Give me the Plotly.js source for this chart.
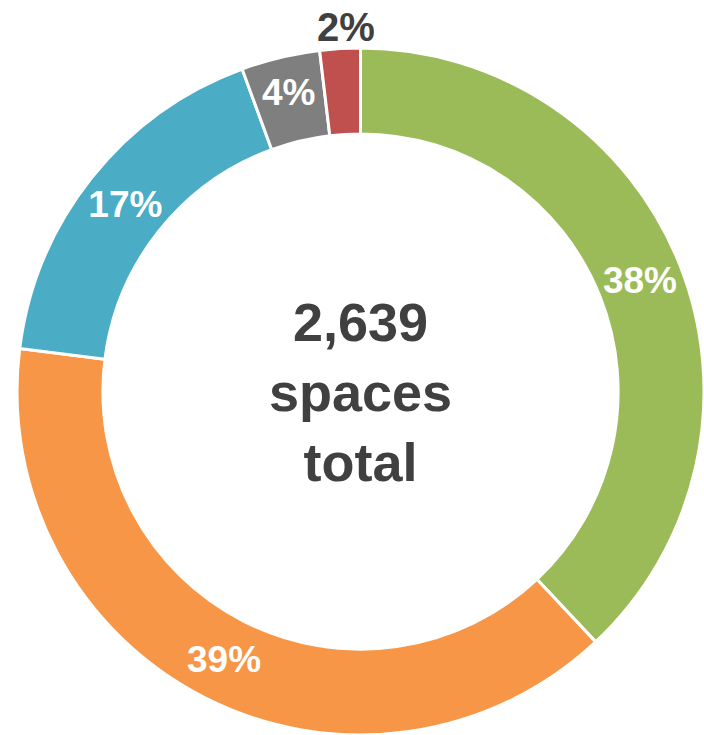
<!DOCTYPE html>
<html>
<head>
<meta charset="utf-8">
<script src="https://cdn.plot.ly/plotly-3.0.1.min.js"></script>
<style>html,body{margin:0;padding:0;background:#fff;}#chart{width:704px;height:735px;}</style>
</head>
<body>
<div id="chart"></div>
<script>
const categories = ["Green", "Orange", "Blue", "Gray", "Red"];
const values = [38, 39, 17.4, 3.7, 1.9];
const colors = ["#9BBB59", "#F79646", "#4BACC6", "#7F7F7F", "#C0504D"];
const insideLabel = [true, true, true, true, false];
const centerLines = ["2,639", "spaces", "total"];

const FONT = "Liberation Sans, Arial, sans-serif";
const total = values.reduce((a, b) => a + b, 0);

const annotations = [{
  xref: "paper", yref: "paper", x: 0.5, y: 0.5,
  text: "<b>" + centerLines.join("<br>") + "</b>",
  showarrow: false,
  font: {family: FONT, size: 54, color: "#404040"},
  align: "center"
}];
// label for the tiny slice, placed just outside the ring at its mid angle
let cum = 0;
values.forEach((v, i) => {
  const mid = (cum + v / 2) / total * 2 * Math.PI;
  cum += v;
  if (!insideLabel[i]) {
    const r = 0.532;
    annotations.push({
      xref: "paper", yref: "paper",
      x: 0.5 + r * Math.sin(mid) + 0.01,
      y: 0.5 + r * Math.cos(mid),
      xanchor: "center", yanchor: "middle",
      text: "<b>" + Math.round(v / total * 100) + "%</b>",
      showarrow: false,
      font: {family: FONT, size: 40, color: "#404040"}
    });
  }
});

Plotly.newPlot("chart", [{
  type: "pie",
  labels: categories,
  values: values,
  hole: 0.75,
  sort: false,
  direction: "clockwise",
  rotation: 0,
  marker: {colors: colors, line: {color: "#ffffff", width: 3}},
  texttemplate: insideLabel.map(f => f ? "<b>%{percent:.0%}</b>" : ""),
  textposition: insideLabel.map(f => f ? "inside" : "none"),
  insidetextorientation: "horizontal",
  insidetextfont: {family: FONT, size: 37, color: "#ffffff"},
  showlegend: false,
  hoverinfo: "none"
}], {
  width: 704,
  height: 735,
  margin: {l: 17, r: 0, t: 48, b: 0},
  paper_bgcolor: "#ffffff",
  showlegend: false,
  annotations: annotations
}, {displayModeBar: false, staticPlot: true});
</script>
</body>
</html>
